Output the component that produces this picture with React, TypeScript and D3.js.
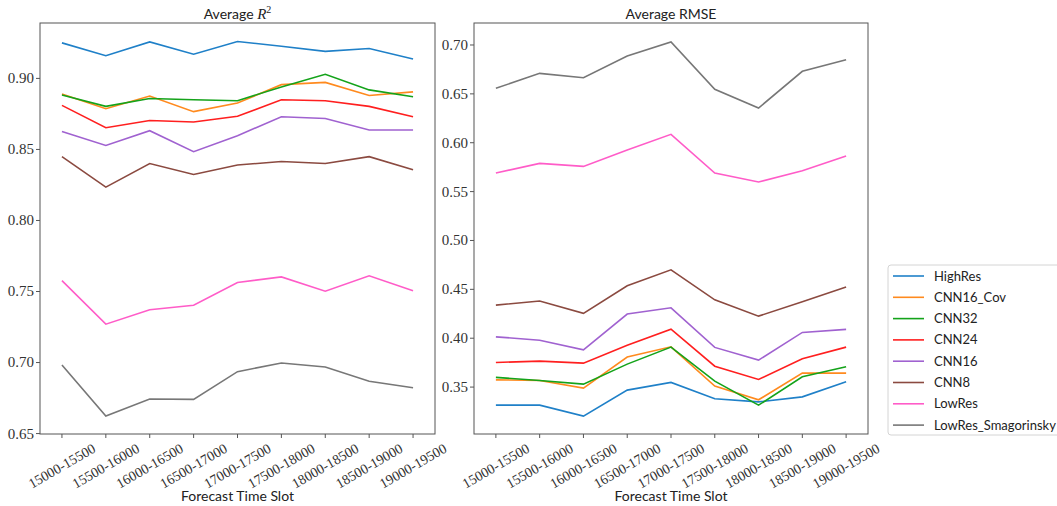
import * as d3 from 'd3';

const slots = [
  '15000-15500', '15500-16000', '16000-16500', '16500-17000', '17000-17500',
  '17500-18000', '18000-18500', '18500-19000', '19000-19500',
];

const models = ['HighRes', 'CNN16_Cov', 'CNN32', 'CNN24', 'CNN16', 'CNN8', 'LowRes', 'LowRes_Smagorinsky'];
const colors = ['#1f80c8', '#ff8a1e', '#14a31a', '#ff1f1f', '#a062d0', '#8b4a40', '#ff5cc8', '#777777'];

// Average R^2, one row per model
const r2HighRes = [0.925, 0.916, 0.9257, 0.917, 0.926, 0.9226, 0.919, 0.921, 0.9137];
const r2Cnn16Cov = [0.889, 0.8787, 0.8876, 0.8766, 0.8827, 0.8956, 0.8972, 0.888, 0.8905];
const r2Cnn32 = [0.8883, 0.8803, 0.8859, 0.885, 0.8843, 0.894, 0.9029, 0.8919, 0.8871];
const r2Cnn24 = [0.881, 0.8653, 0.8704, 0.8693, 0.8733, 0.885, 0.8843, 0.8803, 0.873];
const r2Cnn16 = [0.8627, 0.8528, 0.8632, 0.8484, 0.8597, 0.873, 0.8718, 0.8637, 0.8637];
const r2Cnn8 = [0.845, 0.8235, 0.8401, 0.8324, 0.839, 0.8415, 0.8401, 0.8449, 0.8357];
const r2LowRes = [0.7577, 0.727, 0.7372, 0.7403, 0.7563, 0.7603, 0.7502, 0.7611, 0.7506];
const r2LowResSmag = [0.6983, 0.6623, 0.6743, 0.6741, 0.6936, 0.6997, 0.6969, 0.6868, 0.6823];

// Average RMSE
const rmseHighRes = [0.3315, 0.3315, 0.3203, 0.3469, 0.3548, 0.338, 0.3349, 0.34, 0.3554];
const rmseCnn16Cov = [0.3574, 0.3568, 0.3489, 0.3807, 0.3912, 0.351, 0.337, 0.3643, 0.3643];
const rmseCnn32 = [0.3599, 0.3568, 0.353, 0.3735, 0.3909, 0.3561, 0.3315, 0.3605, 0.3708];
const rmseCnn24 = [0.3752, 0.3766, 0.3745, 0.3929, 0.4093, 0.3714, 0.3578, 0.3789, 0.3909];
const rmseCnn16 = [0.4014, 0.398, 0.3881, 0.4247, 0.4311, 0.3906, 0.3776, 0.4059, 0.409];
const rmseCnn8 = [0.4339, 0.438, 0.4254, 0.4536, 0.47, 0.4393, 0.4226, 0.4373, 0.4523];
const rmseLowRes = [0.569, 0.5789, 0.5758, 0.5925, 0.6086, 0.569, 0.5598, 0.5713, 0.5864];
const rmseLowResSmag = [0.6557, 0.671, 0.6665, 0.6887, 0.7031, 0.6547, 0.6355, 0.6731, 0.685];

const r2Ticks = [0.65, 0.7, 0.75, 0.8, 0.85, 0.9];
const rmseTicks = [0.35, 0.4, 0.45, 0.5, 0.55, 0.6, 0.65, 0.7];

const r2Series = [r2HighRes, r2Cnn16Cov, r2Cnn32, r2Cnn24, r2Cnn16, r2Cnn8, r2LowRes, r2LowResSmag];
const rmseSeries = [rmseHighRes, rmseCnn16Cov, rmseCnn32, rmseCnn24, rmseCnn16, rmseCnn8, rmseLowRes, rmseLowResSmag];

const serif = '"Liberation Serif", "DejaVu Serif", serif';
const sans = 'Lato, "Open Sans", sans-serif';
const frameColor = '#555';

type PanelProps = {
  left: number;
  right: number;
  yDomain: [number, number];
  ticks: number[];
  series: number[][];
  title: React.ReactNode;
};

function Panel({ left, right, yDomain, ticks, series, title }: PanelProps) {
  const top = 23;
  const bottom = 434;
  const x = d3.scalePoint<string>().domain(slots).range([left, right]).padding(0.5);
  const y = d3.scaleLinear().domain(yDomain).range([bottom, top]);
  const line = d3
    .line<number>()
    .x((_, i) => x(slots[i]) as number)
    .y((d) => y(d));
  const cx = (left + right) / 2;

  return (
    <g>
      <text x={cx} y={19} textAnchor="middle" fontFamily={sans} fontSize={14} fill="#222">
        {title}
      </text>
      {series.map((s, i) => (
        <path key={models[i]} d={line(s) as string} fill="none" stroke={colors[i]} strokeWidth={1.6} />
      ))}
      <rect x={left} y={top} width={right - left} height={bottom - top} fill="none" stroke={frameColor} strokeWidth={1} />
      {ticks.map((t) => (
        <g key={t}>
          <line x1={left - 4} x2={left} y1={y(t)} y2={y(t)} stroke={frameColor} />
          <text x={left - 6} y={y(t)} dy="0.33em" textAnchor="end" fontFamily={serif} fontSize={15} fill="#333">
            {t.toFixed(2)}
          </text>
        </g>
      ))}
      {slots.map((s) => {
        const px = x(s) as number;
        return (
          <g key={s}>
            <line x1={px} x2={px} y1={bottom} y2={bottom + 4} stroke={frameColor} />
            <text
              transform={`translate(${px},${bottom + 32}) rotate(-30)`}
              textAnchor="middle"
              dy="0.33em"
              fontFamily={serif}
              fontSize={14}
              fill="#333"
            >
              {s}
            </text>
          </g>
        );
      })}
      <text x={cx} y={501} textAnchor="middle" fontFamily={sans} fontSize={14} fill="#222">
        Forecast Time Slot
      </text>
    </g>
  );
}

function Legend() {
  const x0 = 888;
  const y0 = 265;
  return (
    <g>
      <rect x={x0} y={y0} width={180} height={170} rx={3} fill="#fff" stroke="#d4d4d4" />
      {models.map((m, i) => {
        const yy = y0 + 11 + i * 21.3;
        return (
          <g key={m}>
            <line x1={x0 + 5} x2={x0 + 36} y1={yy} y2={yy} stroke={colors[i]} strokeWidth={1.6} />
            <text x={x0 + 46} y={yy} dy="0.35em" fontFamily={sans} fontSize={13} fill="#222">
              {m}
            </text>
          </g>
        );
      })}
    </g>
  );
}

export default function App() {
  return (
    <svg
      width={1057}
      height={506}
      viewBox="0 0 1057 506"
      style={{ position: 'absolute', left: 0, top: 0, background: '#fff' }}
    >
      <Panel
        left={40}
        right={435}
        yDomain={[0.6497, 0.939]}
        ticks={r2Ticks}
        series={r2Series}
        title={
          <>
            Average{' '}
            <tspan fontFamily={serif} fontStyle="italic" fontSize={15}>R</tspan>
            <tspan fontFamily={serif} fontSize={10} dy={-6}>2</tspan>
          </>
        }
      />
      <Panel
        left={474}
        right={868}
        yDomain={[0.302, 0.7225]}
        ticks={rmseTicks}
        series={rmseSeries}
        title="Average RMSE"
      />
      <Legend />
    </svg>
  );
}
